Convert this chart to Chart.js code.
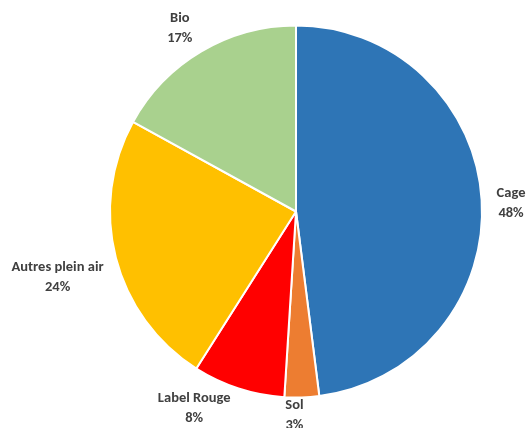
<!DOCTYPE html>
<html>
<head>
<meta charset="utf-8">
<script src="https://cdn.jsdelivr.net/npm/chart.js@4/dist/chart.umd.min.js"></script>
<style>
html,body{margin:0;padding:0;background:#fff;}
#wrap{width:529px;height:428px;position:relative;}
</style>
</head>
<body>
<div id="wrap"><canvas id="myChart"></canvas></div>
<script>
var categories=["Cage","Sol","Label Rouge","Autres plein air","Bio"];
var values=[48,3,8,24,17];
var colors=["#2E75B6","#ED7D31","#FF0000","#FFC000","#A9D18E"];
// small nudges for labels that Excel moved to avoid overlap
var labelNudgeX=[5,-8,-30,-4,-10];
var labelNudgeY=[5,-12,-9,12,3];

var outsideLabels={
  id:"outsideLabels",
  afterDraw:function(chart){
    var ctx=chart.ctx;
    var meta=chart.getDatasetMeta(0);
    ctx.save();
    ctx.font="bold 14.5px Carlito, 'Liberation Sans', Arial, sans-serif";
    ctx.fillStyle="#404040";
    ctx.textAlign="center";
    ctx.textBaseline="middle";
    var lh=20;
    meta.data.forEach(function(arc,i){
      var p=arc.getProps(["x","y","startAngle","endAngle","outerRadius"],true);
      var mid=(p.startAngle+p.endAngle)/2;
      var R=p.outerRadius+10;
      var px=p.x+Math.cos(mid)*R;
      var py=p.y+Math.sin(mid)*R;
      var l1=categories[i];
      var l2=values[i]+"%";
      var w=Math.max(ctx.measureText(l1).width,ctx.measureText(l2).width);
      var h=lh*2;
      var cx=px+Math.cos(mid)*w/2+labelNudgeX[i];
      var cy=py+Math.sin(mid)*h/2+labelNudgeY[i];
      ctx.fillText(l1,cx,cy-lh/2);
      ctx.fillText(l2,cx,cy+lh/2);
    });
    ctx.restore();
  }
};

const ctx=document.getElementById("myChart");
new Chart(ctx,{
  type:"pie",
  data:{
    labels:categories,
    datasets:[{
      data:values,
      backgroundColor:colors,
      borderColor:"#ffffff",
      borderWidth:2
    }]
  },
  options:{
    responsive:true,
    maintainAspectRatio:false,
    animation:false,
    layout:{padding:{left:109,right:46,top:24,bottom:29}},
    plugins:{
      legend:{display:false},
      tooltip:{enabled:false}
    }
  },
  plugins:[outsideLabels]
});
</script>
</body>
</html>
